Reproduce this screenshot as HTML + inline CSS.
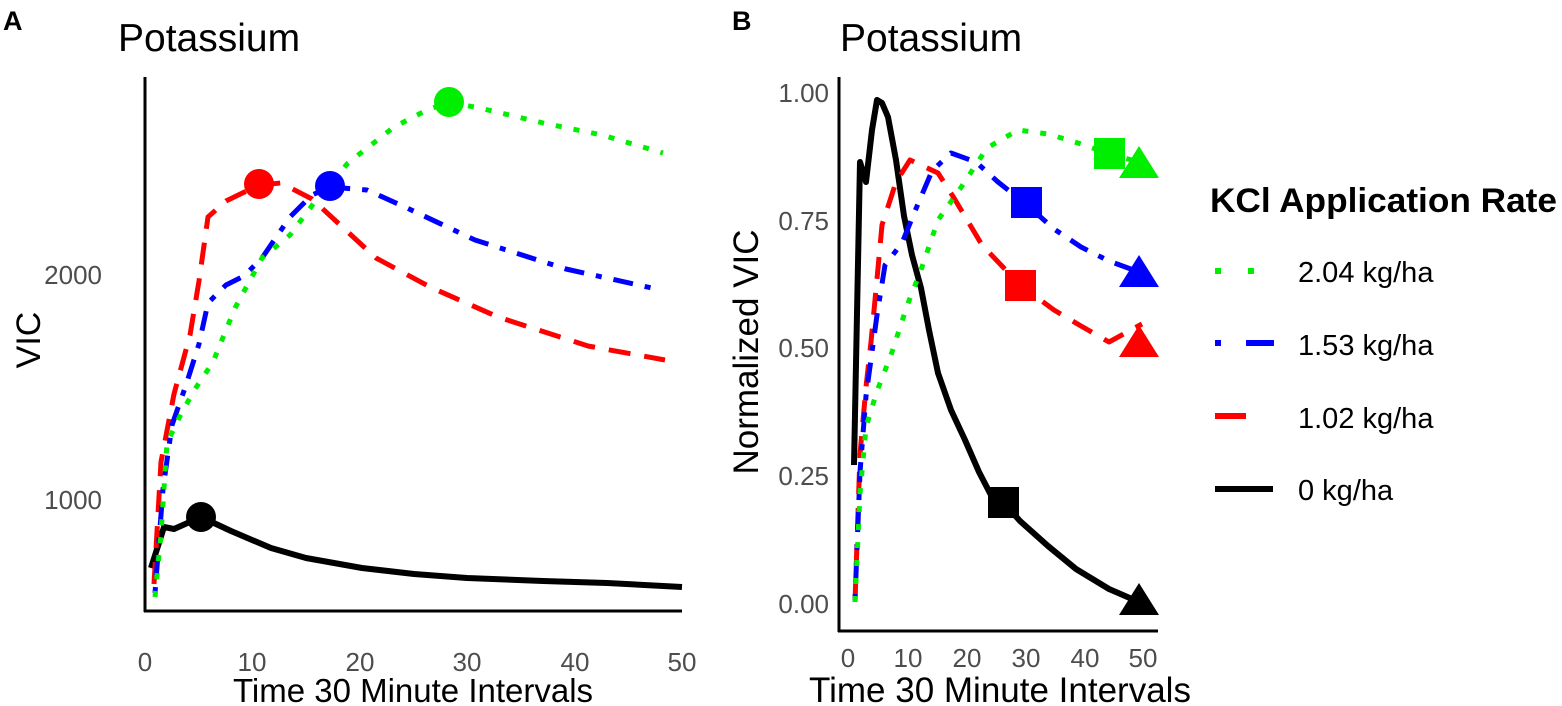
<!DOCTYPE html>
<html><head><meta charset="utf-8"><style>
body{margin:0;background:#fff}
svg{display:block}
text{font-family:"Liberation Sans",sans-serif}
</style></head><body>
<svg width="1562" height="706" viewBox="0 0 1562 706" xmlns="http://www.w3.org/2000/svg">
<rect width="1562" height="706" fill="#fff"/>
<!-- Panel A -->
<text x="3" y="30" font-size="27" font-weight="bold">A</text>
<text x="118" y="51" font-size="39">Potassium</text>
<line x1="145" y1="77" x2="145" y2="612" stroke="#000" stroke-width="3"/>
<line x1="144" y1="611" x2="682" y2="611" stroke="#000" stroke-width="3"/>
<g font-size="26" fill="#4d4d4d" text-anchor="end">
<text x="102" y="284">2000</text><text x="102" y="509">1000</text>
</g>
<g font-size="26" fill="#4d4d4d" text-anchor="middle">
<text x="145" y="671">0</text><text x="252" y="671">10</text><text x="360" y="671">20</text><text x="467" y="671">30</text><text x="575" y="671">40</text><text x="682" y="671">50</text>
</g>
<text x="413" y="702" font-size="33" text-anchor="middle">Time 30 Minute Intervals</text>
<text transform="translate(40,340) rotate(-90)" font-size="34" text-anchor="middle">VIC</text>
<g fill="none" stroke-width="5" stroke-linejoin="round">
<polyline stroke="#000" stroke-width="6" points="151,568 164,527 174,529 201,517 231,531 271,548 306,558 362,568 414,574 467,578 543,581 607,583 682,587"/>
<polyline stroke="#ff0000" stroke-dasharray="22,14" points="154,584 161,462 174,394 190,335 199,281 208,217 226,201 259,185 281,183 312,199 376,258 430,287 498,317 588,346 665,360"/>
<polyline stroke="#0000ff" stroke-dasharray="6,12,20,12" points="155,593 163,489 172,425 186,385 199,344 208,303 226,285 244,276 262,258 290,217 312,195 330,187 367,190 407,208 475,240 566,269 661,290"/>
<polyline stroke="#00ee00" stroke-dasharray="6,12" points="155,597 161,534 167,443 181,414 195,389 213,362 235,308 262,258 290,235 317,199 348,163 394,127 425,111 449,102 484,109 543,123 602,135 663,153"/>
</g>
<circle cx="201" cy="517" r="15" fill="#000"/>
<circle cx="259" cy="184" r="15" fill="#ff0000"/>
<circle cx="330" cy="186" r="15" fill="#0000ff"/>
<circle cx="449" cy="102" r="15" fill="#00ee00"/>
<!-- Panel B -->
<text x="732" y="30" font-size="27" font-weight="bold">B</text>
<text x="840" y="51" font-size="39">Potassium</text>
<line x1="839" y1="77" x2="839" y2="632" stroke="#000" stroke-width="3"/>
<line x1="838" y1="631" x2="1158" y2="631" stroke="#000" stroke-width="3"/>
<g font-size="26" fill="#4d4d4d" text-anchor="end">
<text x="829" y="102">1.00</text><text x="829" y="230">0.75</text><text x="829" y="357">0.50</text><text x="829" y="485">0.25</text><text x="829" y="613">0.00</text>
</g>
<g font-size="26" fill="#4d4d4d" text-anchor="middle">
<text x="848" y="667">0</text><text x="908" y="667">10</text><text x="967" y="667">20</text><text x="1026" y="667">30</text><text x="1085" y="667">40</text><text x="1143" y="667">50</text>
</g>
<text x="1000" y="702" font-size="35" text-anchor="middle">Time 30 Minute Intervals</text>
<text transform="translate(758,352) rotate(-90)" font-size="35" text-anchor="middle">Normalized VIC</text>
<g fill="none" stroke-width="5" stroke-linejoin="round">
<polyline stroke="#000" stroke-width="6" points="854,465 860,162 866,182 872,130 877,100 882,103 888,117 896,160 904,216 912,255 921,288 929,330 938,373 951,410 965,440 979,472 993,499 1003,502 1020,521 1048,546 1076,569 1109,589 1139,602"/>
<polyline stroke="#ff0000" stroke-dasharray="22,14" points="855,602 860,454 866,387 871,342 877,279 882,225 896,182 910,160 938,173 954,198 982,245 1020,285 1054,310 1081,326 1109,342 1142,324"/>
<polyline stroke="#0000ff" stroke-dasharray="6,12,20,12" points="855,600 860,472 866,396 877,315 885,265 902,243 915,211 932,171 951,153 976,162 998,182 1026,204 1054,229 1081,247 1109,261 1139,272"/>
<polyline stroke="#00ee00" stroke-dasharray="6,12" points="855,602 860,494 866,427 877,391 891,355 907,306 921,270 938,220 960,189 987,148 1018,130 1048,134 1078,143 1110,154 1139,162"/>
</g>
<rect x="988" y="487" width="31" height="31" fill="#000"/>
<rect x="1005" y="270" width="31" height="31" fill="#ff0000"/>
<rect x="1011" y="187" width="31" height="31" fill="#0000ff"/>
<rect x="1094" y="138" width="31" height="31" fill="#00ee00"/>
<polygon points="1139,583 1159,615 1119,615" fill="#000"/>
<polygon points="1139,325 1159,357 1119,357" fill="#ff0000"/>
<polygon points="1139,255 1159,287 1119,287" fill="#0000ff"/>
<polygon points="1139,146 1159,178 1119,178" fill="#00ee00"/>
<!-- Legend -->
<text x="1210" y="212" font-size="34" font-weight="bold" textLength="347" lengthAdjust="spacingAndGlyphs">KCl Application Rate</text>
<g stroke-width="6">
<line x1="1215" y1="271" x2="1273" y2="271" stroke="#00ee00" stroke-dasharray="6,27"/>
<line x1="1215" y1="343" x2="1274" y2="343" stroke="#0000ff" stroke-dasharray="6,25,28,0"/>
<line x1="1215" y1="416" x2="1246" y2="416" stroke="#ff0000"/>
<line x1="1215" y1="489" x2="1273" y2="489" stroke="#000"/>
</g>
<g font-size="29">
<text x="1298" y="282">2.04 kg/ha</text>
<text x="1298" y="355">1.53 kg/ha</text>
<text x="1298" y="428">1.02 kg/ha</text>
<text x="1298" y="500">0 kg/ha</text>
</g>
</svg>
</body></html>
